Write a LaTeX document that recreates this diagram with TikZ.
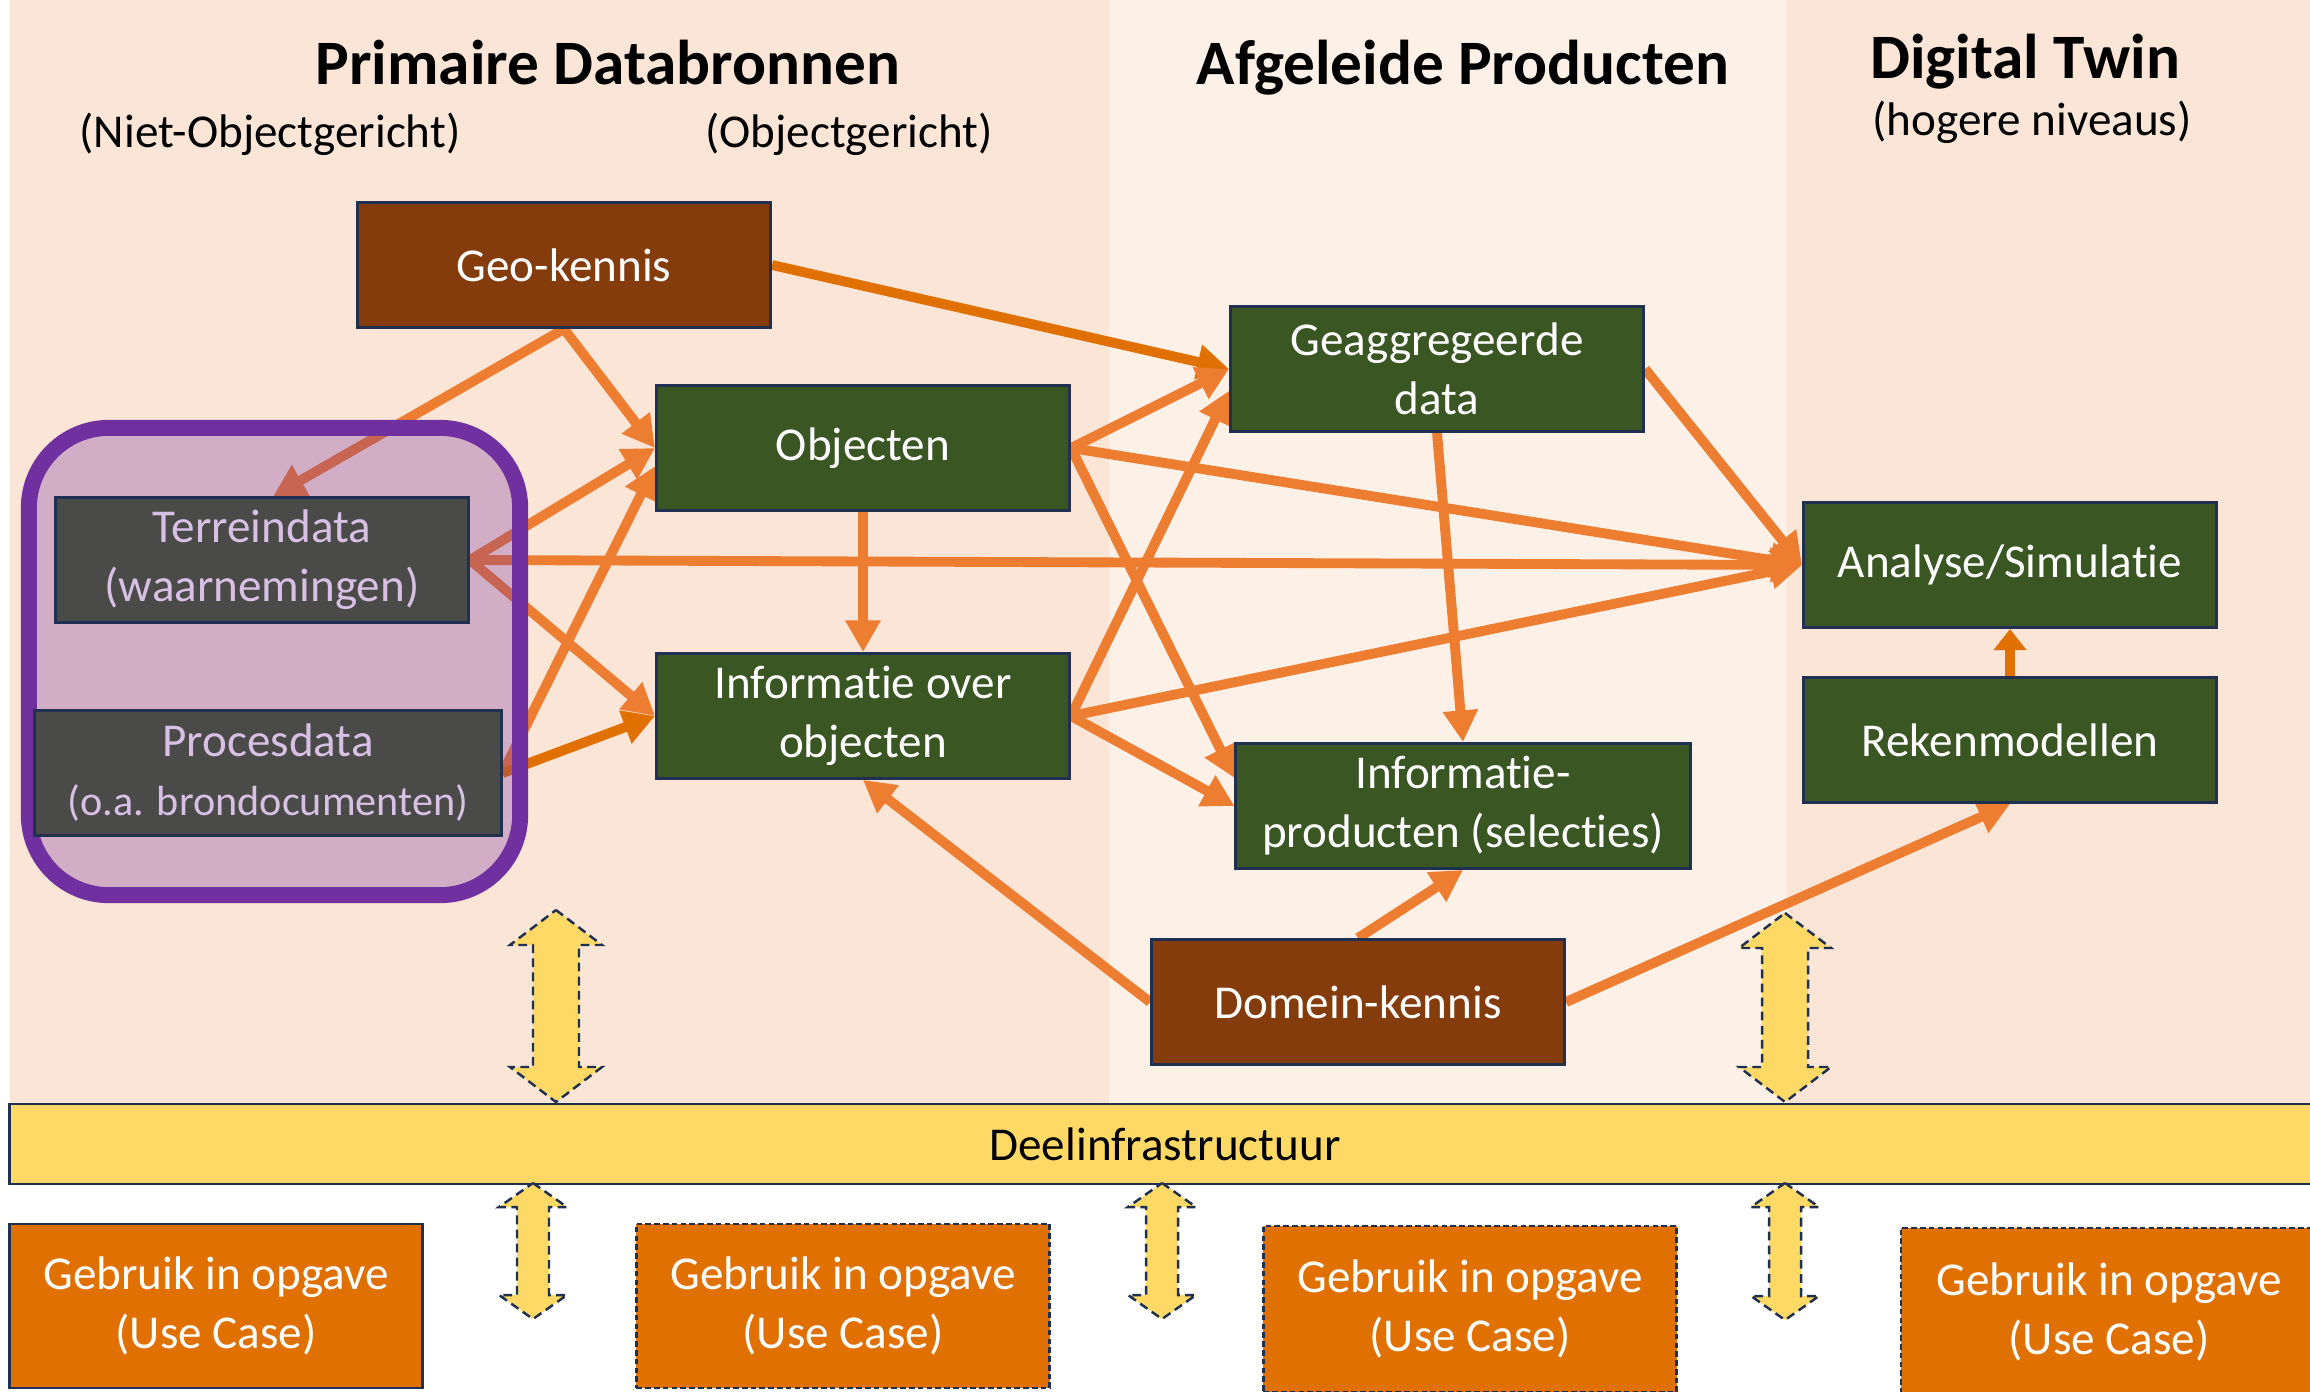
\documentclass[tikz,border=0pt]{standalone}
\usepackage{fontspec}
\setmainfont[Ligatures=NoCommon]{Carlito}
\usetikzlibrary{arrows.meta}

\definecolor{peach}{HTML}{FBE5D6}
\definecolor{peachlight}{HTML}{FDF0E7}
\definecolor{kennisbrown}{HTML}{843C0C}
\definecolor{objgreen}{HTML}{3A5623}
\definecolor{rawgray}{HTML}{4A4B49}
\definecolor{lilac}{HTML}{D8C0E4}
\definecolor{edgenavy}{HTML}{1F3050}
\definecolor{linkorange}{HTML}{ED7D31}
\definecolor{linkdark}{HTML}{E07000}
\definecolor{frameviolet}{HTML}{7030A0}
\definecolor{infrayellow}{HTML}{FFD966}
\definecolor{usecaseorange}{HTML}{E07000}

\newcommand\vakfont{\fontsize{13.4}{16.8}\selectfont}
\newcommand\kopfont{\fontsize{18}{21.5}\selectfont\bfseries}

\pgfdeclarelayer{bgcols}
\pgfdeclarelayer{links}
\pgfdeclarelayer{groep}
\pgfsetlayers{bgcols,links,groep,main}

\begin{document}
\begin{tikzpicture}[x=0.01cm, y=-0.01cm,
  box/.style={draw=edgenavy, line width=0.8pt, minimum width=4.13cm, minimum height=1.25cm,
    inner sep=0pt, align=center, text=white, font=\vakfont},
  kennis/.style={box, fill=kennisbrown},
  product/.style={box, fill=objgreen},
  bron/.style={box, fill=rawgray, text=lilac},
  usecase/.style={box, fill=usecaseorange, minimum height=1.64cm},
  ucdash/.style={dash pattern=on 1.6pt off 0.9pt},
  flow/.style={draw=linkorange, line width=2.8pt, -{Triangle[length=9pt,width=9.5pt]}},
  flowdark/.style={flow, draw=linkdark},
  twoway/.style={draw=edgenavy, line width=0.7pt, dash pattern=on 2.5pt off 1.5pt, fill=infrayellow},
  kop/.style={font=\kopfont},
  sub/.style={font=\vakfont}]
\useasboundingbox (0,0) rectangle (2310,1391);

% Kolommen (achtergrond)
\begin{pgfonlayer}{bgcols}
\fill[white] (0,0) rectangle (2310,1391);
\fill[peach] (10,0) rectangle (1109,1104);
\fill[peachlight] (1109,0) rectangle (1787,1104);
\fill[peach] (1787,0) rectangle (2310,1104);
\end{pgfonlayer}

% Koppen
\node[kop] (tprim) at (608,63) {Primaire Databronnen};
\node[sub] (tniet) at (270,134) {(Niet-Objectgericht)};
\node[sub] (tobj) at (849,134) {(Objectgericht)};
\node[kop] (tafg) at (1463,68) {Afgeleide Producten};
\node[kop] (tdt) at (2025,62) {Digital Twin};
\node[sub] (thoog) at (2032,122) {(hogere niveaus)};

% Primaire databronnen
\node[kennis] (geo) at (564,265) {Geo-kennis};
\node[product] (obj) at (863,448) {Objecten};
\node[product] (info) at (863,716) {Informatie over\\objecten};
\node[bron] (terrein) at (262,560) {Terreindata\\(waarnemingen)};
\node[bron, minimum width=4.66cm] (proces) at (268,773)
  {Procesdata\\{\fontsize{12}{16.8}\selectfont(o.a. brondocumenten)}};

% Niet-objectgerichte bronnen
\begin{pgfonlayer}{groep}
\node[draw=frameviolet, line width=4.55pt, fill=frameviolet, fill opacity=0.3, draw opacity=1,
  rounded corners=0.8cm, minimum width=4.91cm, minimum height=4.67cm] (groepbox) at (274.5,661.5) {};
\end{pgfonlayer}

% Afgeleide producten
\node[product] (geagg) at (1437,369) {Geaggregeerde\\data};
\node[product, minimum width=4.54cm] (infoprod) at (1463,806) {Informatie-\\producten (selecties)};
\node[kennis] (domein) at (1358,1002) {Domein-kennis};

% Digital Twin
\node[product] (analyse) at (2010,565) {Analyse/Simulatie};
\node[product] (reken) at (2010,740) {Rekenmodellen};

% Deelinfrastructuur en use cases
\node[draw=edgenavy, line width=0.8pt, fill=infrayellow, minimum width=23.1cm, minimum height=0.8cm,
  font=\vakfont] (infra) at (1165,1144) {Deelinfrastructuur};
\node[usecase] (uc1) at (216,1306) {Gebruik in opgave\\(Use Case)};
\node[usecase, ucdash] (uc2) at (843,1306) {Gebruik in opgave\\(Use Case)};
\node[usecase, ucdash, minimum height=1.66cm] (uc3) at (1470,1309) {Gebruik in opgave\\(Use Case)};
\node[usecase, ucdash, minimum width=4.16cm, minimum height=1.68cm] (uc4) at (2109,1312) {Gebruik in opgave\\(Use Case)};

\foreach \x/\ya/\yb/\hw/\sw/\hl in {556/910/1102/46/23/35, 1785/913/1102/46/23/35,
    533/1183/1319/34/16/24, 1162/1183/1319/34/16/24, 1785/1183/1320/34/16/24}
  \draw[twoway] (\x,\ya) -- (\x+\hw,\ya+\hl) -- (\x+\sw,\ya+\hl) -- (\x+\sw,\yb-\hl)
    -- (\x+\hw,\yb-\hl) -- (\x,\yb) -- (\x-\hw,\yb-\hl) -- (\x-\sw,\yb-\hl)
    -- (\x-\sw,\ya+\hl) -- (\x-\hw,\ya+\hl) -- cycle;

% Verbindingen
\begin{pgfonlayer}{links}
\draw[flowdark] (geo.east) -- (geagg.west);
\draw[flow] (geo.south) -- (terrein.80);
\draw[flow] (geo.south) -- (obj.west);
\foreach \t in {obj.west, info.west, analyse.west}
  \draw[flow] (terrein.east) -- (\t);
\draw[flow] (proces.east) -- (obj.185);
\draw[flowdark] (proces.east) -- (info.west);
\draw[flow] (obj.south) -- (info.north);
\draw[flow] (obj.east) -- (geagg.west);
\draw[flow] (obj.east) -- (infoprod.173);
\draw[flow] (obj.east) -- (analyse.west);
\draw[flow] (info.east) -- (geagg.186);
\draw[flow] (info.east) -- (infoprod.west);
\draw[flow] (info.east) -- (analyse.west);
\draw[flow] (geagg.south) -- (infoprod.north);
\draw[flow] (geagg.east) -- (analyse.west);
\draw[flowdark, -{Triangle[length=6pt,width=9pt]}] (reken.north) -- (analyse.south);
\draw[flow] (domein.west) -- (info.south);
\draw[flow] (domein.north) -- (infoprod.south);
\draw[flow] (domein.east) -- (reken.south);
\end{pgfonlayer}

\end{tikzpicture}
\end{document}
